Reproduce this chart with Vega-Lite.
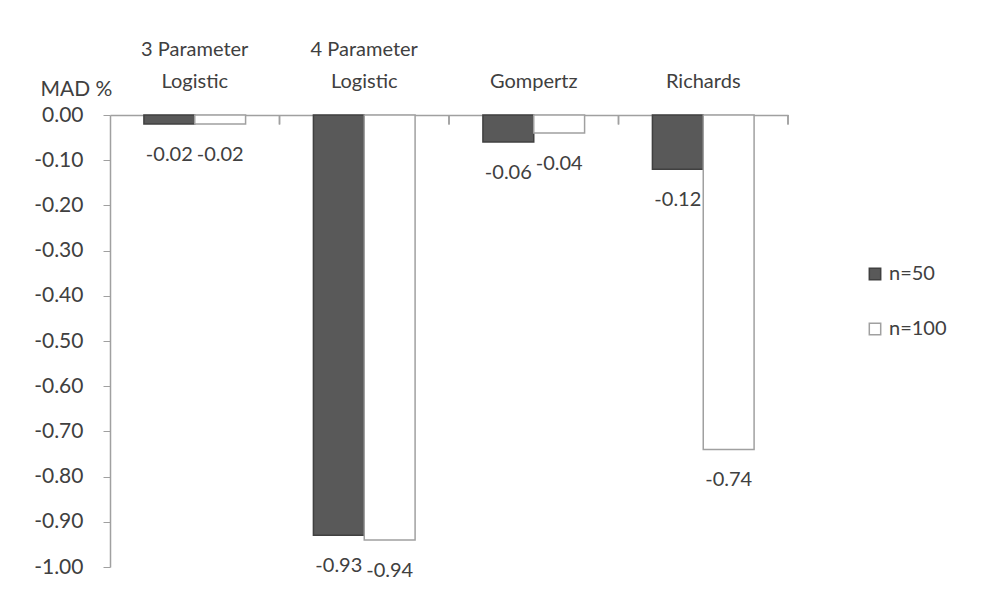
{
  "$schema": "https://vega.github.io/schema/vega-lite/v6.json",
  "autosize": "none",
  "width": 678,
  "height": 452,
  "padding": {"left": 110, "top": 115, "right": 199, "bottom": 29},
  "background": "white",
  "config": {
    "view": {"stroke": null},
    "font": "Lato",
    "text": {"font": "Lato"},
    "locale": {
      "number": {"decimal": ".", "thousands": ",", "grouping": [3], "currency": ["", ""], "minus": "-"}
    }
  },
  "data": {
    "values": [
      {"model": "3 Parameter Logistic", "n": "n=50", "mad": -0.02},
      {"model": "3 Parameter Logistic", "n": "n=100", "mad": -0.02},
      {"model": "4 Parameter Logistic", "n": "n=50", "mad": -0.93},
      {"model": "4 Parameter Logistic", "n": "n=100", "mad": -0.94},
      {"model": "Gompertz", "n": "n=50", "mad": -0.06},
      {"model": "Gompertz", "n": "n=100", "mad": -0.04},
      {"model": "Richards", "n": "n=50", "mad": -0.12},
      {"model": "Richards", "n": "n=100", "mad": -0.74}
    ]
  },
  "encoding": {
    "x": {
      "field": "model",
      "type": "nominal",
      "sort": null,
      "scale": {"paddingInner": 0, "paddingOuter": 0},
      "axis": {
        "orient": "bottom",
        "offset": -452,
        "title": null,
        "labelAngle": 0,
        "labelFont": "Lato",
        "labelFontSize": 20,
        "labelColor": "#404040",
        "labelLineHeight": 32,
        "labelBaseline": "top",
        "labelPadding": -76,
        "labelExpr": "indexof(datum.label, 'Parameter') > 0 ? [slice(datum.label, 0, 11), 'Logistic'] : ['', datum.label]",
        "ticks": false,
        "domainColor": "#a0a0a0",
        "domainWidth": 1.5
      }
    },
    "y": {
      "field": "mad",
      "type": "quantitative",
      "scale": {"domain": [-1, 0], "nice": false},
      "axis": {
        "title": "MAD %",
        "titleAngle": 0,
        "titleFont": "Lato",
        "titleFontSize": 21,
        "titleFontWeight": "normal",
        "titleColor": "#404040",
        "titleAlign": "left",
        "titleBaseline": "bottom",
        "titleX": -70,
        "titleY": -16,
        "values": [0, -0.1, -0.2, -0.3, -0.4, -0.5, -0.6, -0.7, -0.8, -0.9, -1],
        "format": ".2f",
        "labelFont": "Lato",
        "labelFontSize": 21,
        "labelColor": "#404040",
        "labelPadding": 20,
        "tickSize": 7,
        "tickColor": "#a0a0a0",
        "domainColor": "#a0a0a0",
        "domainWidth": 1.5,
        "grid": false
      }
    }
  },
  "layer": [
    {
      "mark": {"type": "rule", "color": "#a0a0a0", "strokeWidth": 1.5},
      "encoding": {
        "x": {"field": "model", "type": "nominal", "sort": null, "bandPosition": 1},
        "y": {"datum": 0},
        "y2": {"datum": -0.021}
      }
    },
    {
      "mark": {"type": "bar", "strokeWidth": 1.5},
      "encoding": {
        "xOffset": {"field": "n", "type": "nominal", "sort": ["n=50", "n=100"], "scale": {"paddingInner": 0, "paddingOuter": 0.667}},
        "color": {
          "field": "n",
          "type": "nominal",
          "sort": ["n=50", "n=100"],
          "scale": {"domain": ["n=50", "n=100"], "range": ["#595959", "#ffffff"]},
          "legend": {
            "title": null,
            "orient": "none",
            "legendX": 755,
            "legendY": 149,
            "symbolType": "square",
            "symbolSize": 130,
            "symbolStrokeWidth": 1.5,
            "labelFont": "Lato",
            "labelFontSize": 20,
            "labelColor": "#404040",
            "rowPadding": 35,
            "labelOffset": 4
          }
        },
        "stroke": {
          "field": "n",
          "type": "nominal",
          "sort": ["n=50", "n=100"],
          "scale": {"domain": ["n=50", "n=100"], "range": ["#404040", "#a0a0a0"]},
          "legend": null
        }
      }
    },
    {
      "mark": {"type": "text", "baseline": "top", "dy": 21, "fontSize": 20, "color": "#404040", "font": "Lato"},
      "encoding": {
        "xOffset": {"field": "n", "type": "nominal", "sort": ["n=50", "n=100"]},
        "text": {"field": "mad", "type": "quantitative", "format": ".2f"}
      }
    }
  ]
}
